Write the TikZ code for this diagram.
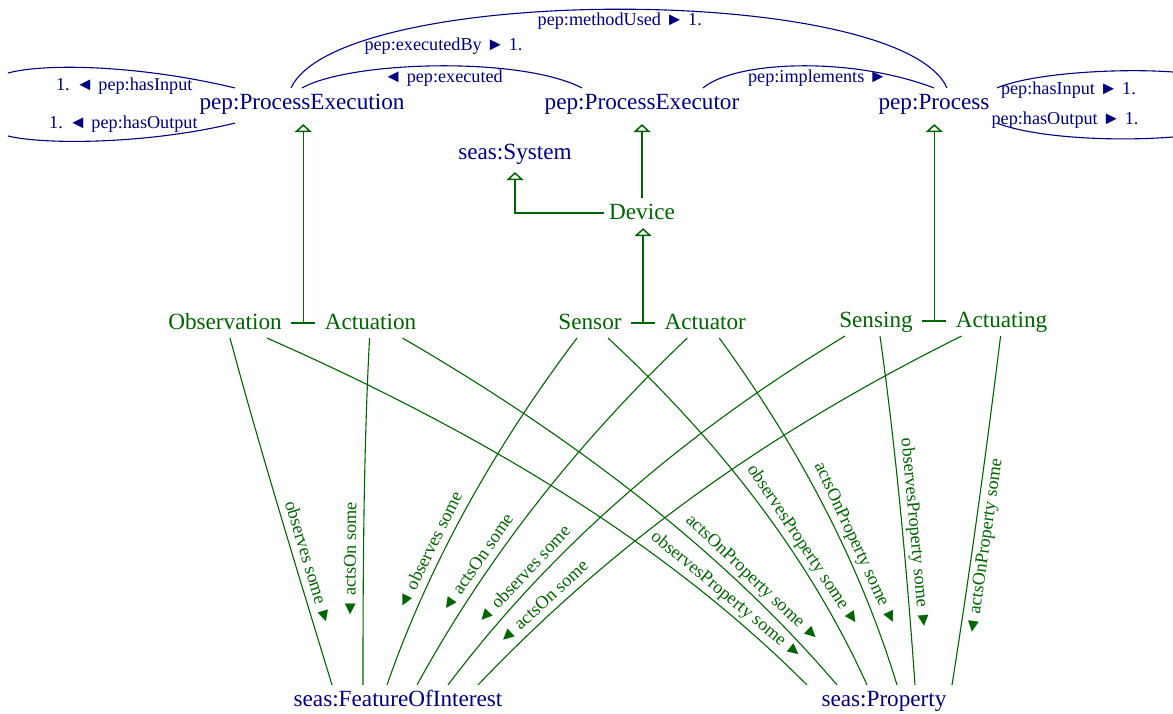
\documentclass[tikz,border=0pt]{standalone}
\usepackage{fontspec}
\setmainfont{Liberation Serif}
\usetikzlibrary{arrows.meta,positioning,calc}

\definecolor{navy}{RGB}{0,0,128}
\definecolor{dgreen}{RGB}{0,100,0}

\newcommand\clsfont{\fontsize{11.6}{14}\selectfont}
\newcommand\lblfont{\fontsize{9.1}{11}\selectfont}

\begin{document}
\begin{tikzpicture}[
        x=0.5pt, y=-0.5pt, line width=0.55pt,
        every node/.append style={inner sep=2.5pt, text height=.82em, text depth=.13em}
    ]

    \tikzstyle{cls} = [font=\clsfont, text=navy]
    \tikzstyle{sub} = [font=\clsfont, text=dgreen]
    \tikzstyle{lbl} = [font=\lblfont, inner sep=1pt, text height=.7em, text depth=.25em]
    \tikzstyle{isa} = [draw=dgreen, line width=0.75pt, -{Triangle[open, length=4pt, width=8.5pt]}]
    \tikzstyle{obj} = [draw=navy, text=navy]
    \tikzstyle{dat} = [draw=dgreen, text=dgreen]

    \useasboundingbox (0,0) rectangle (1173,713);

    \node[cls] (pe)   at (302,103) {pep:ProcessExecution};
    \node[cls] (pexr) at (642,103) {pep:ProcessExecutor};
    \node[cls] (proc) at (934,103) {pep:Process};
    \node[cls] (sys)  at (515,153) {seas:System};
    \node[sub] (dev)  at (642,213) {Device};

    \node[sub] (obs) at (225,323) {Observation};
    \node[sub] (act) [right=16pt of obs] {Actuation};
    \node[sub] (sen) at (590,323) {Sensor};
    \node[sub] (acr) [right=16pt of sen] {Actuator};
    \node[sub] (sng) at (876,321) {Sensing};
    \node[sub] (acg) [right=16pt of sng] {Actuating};

    \node[cls] (foi)  at (398,700) {seas:FeatureOfInterest};
    \node[cls] (prop) at (884,700) {seas:Property};

    \coordinate (inL)  at (8,73);
    \coordinate (outL) at (8,136);
    \coordinate (inR)  at (1173,72);
    \coordinate (outR) at (1173,137);

    % subclass links
    \coordinate (oa) at ($(obs.east)!.5!(act.west)$);
    \coordinate (sa) at ($(sen.east)!.5!(acr.west)$);
    \coordinate (ga) at ($(sng.east)!.5!(acg.west)$);
    \draw[dgreen, line width=0.75pt, shorten <=2pt, shorten >=2pt] (obs.east) -- (act.west);
    \draw[dgreen, line width=0.75pt, shorten <=2pt, shorten >=2pt] (sen.east) -- (acr.west);
    \draw[dgreen, line width=0.75pt, shorten <=2pt, shorten >=2pt] (sng.east) -- (acg.west);
    \draw[isa, shorten >=3pt] (oa) -- (oa |- pe.south);
    \draw[isa] (sa) -- (sa |- dev.south);
    \draw[isa, shorten >=3pt] (ga) -- (ga |- proc.south);
    \draw[isa, shorten >=3pt] (dev.north) -- (pexr.south);
    \draw[isa, shorten >=2pt] (dev.west) -| (sys.south);

    % object properties
    \draw[obj] ($(pe.north)+(-11,0)$) .. controls +(49,-105) and +(-47,-105) .. ($(proc.north)+(13,0)$)
        node[lbl, below, pos=.5] {pep:methodUsed ► 1.};
    \draw[obj] (pe.north) .. controls +(48,-27) and +(-62,-32) .. ($(pexr.north)+(-60,0)$)
        node[lbl, above=4pt, pos=.52] {pep:executedBy ► 1.}
        node[lbl, below, pos=.52] {◄ pep:executed};
    \draw[obj] ($(pexr.north)+(61,0)$) .. controls +(32,-27) and +(-84,-32) .. (proc.north)
        node[lbl, below, pos=.57] {pep:implements ►};
    \draw[obj] ($(pe.north west)+(41,0)$) .. controls +(-96,-23) and +(37,-10) .. (inL)
        node[lbl, below=2pt, pos=.4] {1. ◄ pep:hasInput};
    \draw[obj] ($(pe.south west)+(41,5)$) .. controls +(-86,21) and +(37,9) .. (outL)
        node[lbl, above=2pt, pos=.42] {1. ◄ pep:hasOutput};
    \draw[obj] ($(proc.north east)+(2,0)$) .. controls +(35,-15) and +(-53,-4) .. (inR)
        node[lbl, below=2pt, pos=.45] {pep:hasInput ► 1.};
    \draw[obj] ($(proc.south east)+(2,5)$) .. controls +(35,14) and +(-63,5) .. (outR)
        node[lbl, above=2pt, pos=.45] {pep:hasOutput ► 1.};

    % restrictions to FeatureOfInterest
    \draw[dat] ($(obs.south)+(5,0)$) .. controls +(31,115) and +(-35,-115) .. ($(foi.north)+(-66,0)$)
        node[lbl, sloped, above, pos=.66] {observes some ►};
    \draw[dat] ($(act.south)+(-1,0)$) .. controls +(-6,115) and +(0,-115) .. ($(foi.north)+(-35,0)$)
        node[lbl, sloped, above, pos=.64] {◄ actsOn some};
    \draw[dat] ($(sen.south)+(-13,0)$) .. controls +(-87,115) and +(40,-115) .. ($(foi.north)+(-11,0)$)
        node[lbl, sloped, above, pos=.63] {◄ observes some};
    \draw[dat] ($(acr.south)+(-18,0)$) .. controls +(-121,115) and +(63,-115) .. ($(foi.north)+(19,0)$)
        node[lbl, sloped, above, pos=.67] {◄ actsOn some};
    \draw[dat] ($(sng.south)+(-31,0)$) .. controls +(-189,114) and +(86,-114) .. ($(foi.north)+(50,0)$)
        node[lbl, sloped, above, pos=.71] {◄ observes some};
    \draw[dat] ($(acg.south)+(-40,0)$) .. controls +(-230,114) and +(109,-114) .. ($(foi.north)+(80,0)$)
        node[lbl, sloped, above, pos=.79] {◄ actsOn some};

    % restrictions to Property
    \draw[dat] ($(obs.south)+(42,0)$) .. controls +(261,115) and +(-115,-115) .. ($(prop.north)+(-77,0)$)
        node[lbl, sloped, above, pos=.77] {observesProperty some ►};
    \draw[dat] ($(act.south)+(32,0)$) .. controls +(198,115) and +(-98,-115) .. ($(prop.north)+(-47,0)$)
        node[lbl, sloped, above, pos=.72] {actsOnProperty some ►};
    \draw[dat] ($(sen.south)+(18,0)$) .. controls +(124,115) and +(-52,-115) .. ($(prop.north)+(-17,0)$)
        node[lbl, sloped, above, pos=.62] {observesProperty some ►};
    \draw[dat] ($(acr.south)+(14,0)$) .. controls +(84,115) and +(-35,-115) .. ($(prop.north)+(13,0)$)
        node[lbl, sloped, above, pos=.61] {actsOnProperty some ►};
    \draw[dat] ($(sng.south)+(4,0)$) .. controls +(16,114) and +(-8,-114) .. ($(prop.north)+(31,0)$)
        node[lbl, sloped, above, pos=.57] {observesProperty some ►};
    \draw[dat] ($(acg.south)+(-1,0)$) .. controls +(-14,114) and +(18,-114) .. ($(prop.north)+(68,0)$)
        node[lbl, sloped, below, pos=.6] {◄ actsOnProperty some};

\end{tikzpicture}
\end{document}
